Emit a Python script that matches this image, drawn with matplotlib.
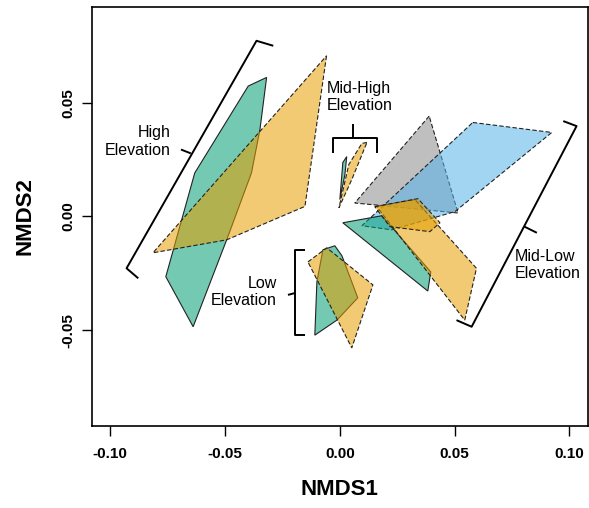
from matplotlib import pyplot as plt
from matplotlib.patches import Polygon

plt.rcParams['font.family'] = ['Liberation Sans', 'DejaVu Sans']

# hull vertices
high_teal_x = [-0.0319, -0.0399, -0.0632, -0.0758, -0.0639, -0.0493, -0.0385, -0.0348]
high_teal_y = [0.0611, 0.0573, 0.0191, -0.0265, -0.0485, -0.0103, 0.0191, 0.0382]
high_orange_x = [-0.0058, -0.0152, -0.0493, -0.0814]
high_orange_y = [0.0706, 0.0044, -0.0103, -0.0160]

midhigh_teal_x = [0.0030, 0.0013, 0.0000, 0.0022]
midhigh_teal_y = [0.0263, 0.0237, 0.0074, 0.0184]
midhigh_orange_x = [0.0118, 0.0096, 0.0039, -0.0004, 0.0052]
midhigh_orange_y = [0.0325, 0.0321, 0.0228, 0.0038, 0.0162]

midlow_grey_x = [0.0389, 0.0065, 0.0515]
midlow_grey_y = [0.0441, 0.0059, 0.0015]
midlow_blue_x = [0.0579, 0.0923, 0.0501, 0.0226, 0.0096]
midlow_blue_y = [0.0413, 0.0369, 0.0021, -0.0059, -0.0041]
midlow_teal_x = [0.0013, 0.0183, 0.0396, 0.0383]
midlow_teal_y = [-0.0028, 0.0003, -0.0244, -0.0328]
midlow_orange_x = [0.0160, 0.0327, 0.0595, 0.0544]
midlow_orange_y = [0.0044, 0.0074, -0.0228, -0.0456]
midlow_orange2_x = [0.0152, 0.0340, 0.0436, 0.0392, 0.0218]
midlow_orange2_y = [0.0043, 0.0078, -0.0028, -0.0067, -0.0045]

low_teal_x = [-0.0074, -0.0022, 0.0009, 0.0078, -0.0013, -0.0109, -0.0100]
low_teal_y = [-0.0147, -0.0129, -0.0173, -0.0358, -0.0456, -0.0522, -0.0288]
low_orange_x = [-0.0139, -0.0057, 0.0144, 0.0052]
low_orange_y = [-0.0200, -0.0138, -0.0301, -0.0578]

tick_vals = [-0.10, -0.05, 0.00, 0.05, 0.10]
ytick_vals = [-0.05, 0.00, 0.05]

teal = "#009E73"
orange = "#E69F00"
grey = "#8c8c8c"
blue = "#56B4E9"

fig = plt.figure(figsize=(5.89, 5.08), dpi=100)
ax = fig.add_axes([0.156, 0.162, 0.842, 0.824])

hulls = [
	(midlow_grey_x, midlow_grey_y, grey, "dashed"),
	(midlow_blue_x, midlow_blue_y, blue, "dashed"),
	(high_teal_x, high_teal_y, teal, "solid"),
	(high_orange_x, high_orange_y, orange, "dashed"),
	(midhigh_teal_x, midhigh_teal_y, teal, "solid"),
	(midhigh_orange_x, midhigh_orange_y, orange, "dashed"),
	(midlow_teal_x, midlow_teal_y, teal, "solid"),
	(midlow_orange_x, midlow_orange_y, orange, "dashed"),
	(midlow_orange2_x, midlow_orange2_y, orange, "dashed"),
	(low_teal_x, low_teal_y, teal, "solid"),
	(low_orange_x, low_orange_y, orange, "dashed"),
]
for xs, ys, col, ls in hulls:
	poly = Polygon(list(zip(xs, ys)), closed=True, facecolor=col, alpha=0.55,
		edgecolor="none")
	ax.add_patch(poly)
	edge = Polygon(list(zip(xs, ys)), closed=True, facecolor="none",
		edgecolor="#222222", linewidth=0.8, linestyle=(0, (4, 2)) if ls == "dashed" else "-")
	ax.add_patch(edge)

# brackets
kw = dict(color="black", lw=1.4, solid_capstyle="butt")
ax.plot([-0.0290, -0.0363, -0.0929, -0.0878], [0.0750, 0.0772, -0.0228, -0.0272], **kw)
ax.plot([-0.0649, -0.0692], [0.0277, 0.0294], **kw)
ax.text(-0.0736, 0.0329, "High\nElevation", ha="right", va="center", multialignment="right", fontsize=11.5)

ax.plot([-0.0029, -0.0029, 0.0160, 0.0160], [0.0280, 0.0346, 0.0346, 0.0280], **kw)
ax.plot([0.0058, 0.0058], [0.0346, 0.0405], **kw)
ax.text(-0.0058, 0.0524, "Mid-High\nElevation", ha="left", va="center", fontsize=11.5)

ax.plot([-0.0152, -0.0196, -0.0196, -0.0152], [-0.0147, -0.0147, -0.0522, -0.0522], **kw)
ax.plot([-0.0196, -0.0226], [-0.0337, -0.0345], **kw)
ax.text(-0.0274, -0.0332, "Low\nElevation", ha="right", va="center", multialignment="right", fontsize=11.5)

ax.plot([0.0973, 0.1031, 0.0574, 0.0508], [0.0419, 0.0397, -0.0485, -0.0456], **kw)
ax.plot([0.0802, 0.0858], [-0.0044, -0.0072], **kw)
ax.text(0.0762, -0.0213, "Mid-Low\nElevation", ha="left", va="center", fontsize=11.5)

ax.set_xlim(-0.108, 0.108)
ax.set_ylim(-0.092, 0.092)
ax.set_xticks(tick_vals)
ax.set_xticklabels(["%.2f" % v for v in tick_vals], fontsize=11, fontweight="bold")
ax.set_yticks(ytick_vals)
ax.set_yticklabels(["%.2f" % v for v in ytick_vals], fontsize=11, fontweight="bold",
	rotation=90, va="center")
ax.tick_params(direction="out", length=7, width=1)
ax.tick_params(axis="x", pad=8)
ax.tick_params(axis="y", pad=5)
for s in ax.spines.values():
	s.set_linewidth(1.2)

ax.set_xlabel("NMDS1", fontsize=16, fontweight="bold")
ax.set_ylabel("NMDS2", fontsize=16, fontweight="bold")
ax.xaxis.set_label_coords(0.5, -0.128)
ax.yaxis.set_label_coords(-0.114, 0.5)

plt.savefig("out.png", dpi=100)
